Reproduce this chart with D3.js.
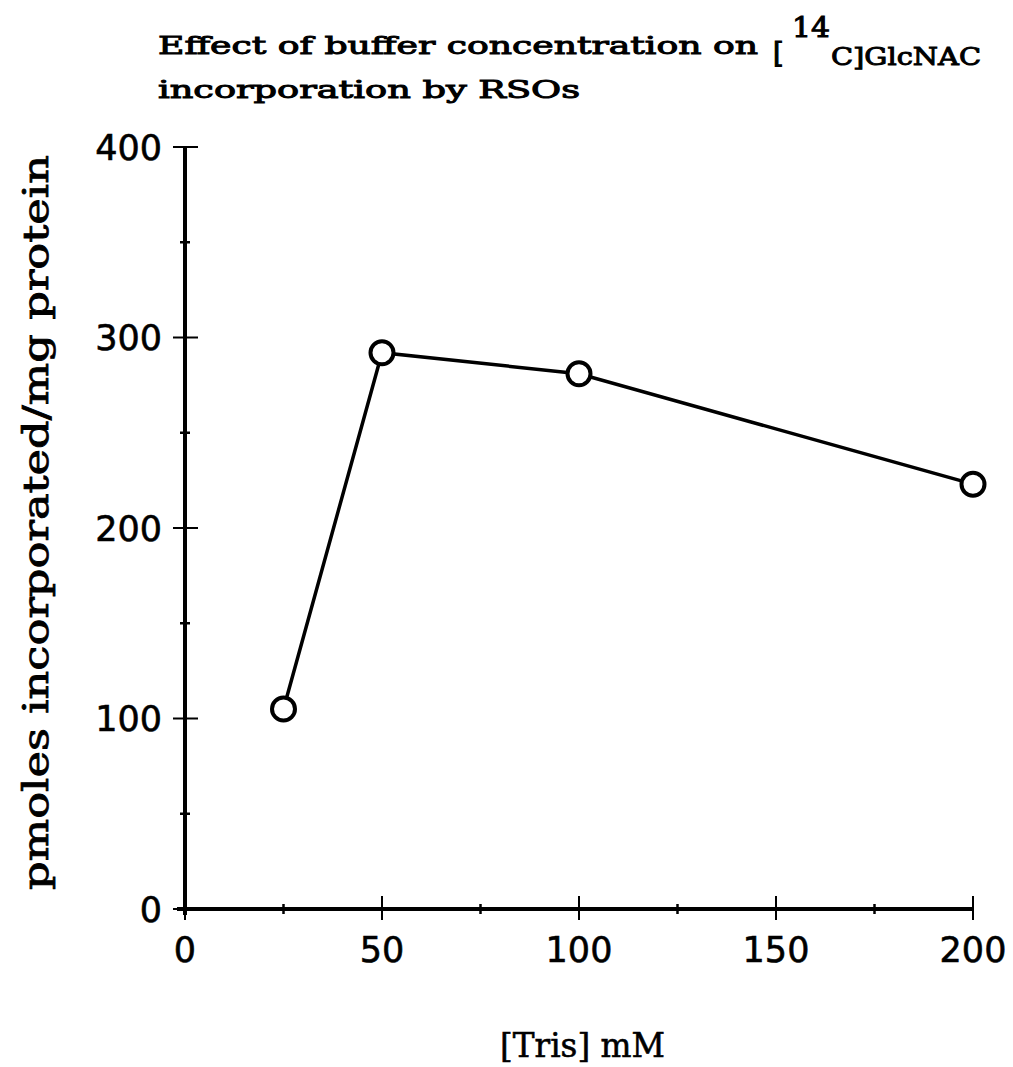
<!DOCTYPE html>
<html>
<head>
<meta charset="utf-8">
<script src="https://cdn.jsdelivr.net/npm/d3@7"></script>
<style>
  html, body { margin: 0; padding: 0; background: #fff; }
  svg { display: block; }
</style>
</head>
<body>
<svg id="chart" width="1013" height="1067"></svg>
<script>
// Tris concentration (mM) and GlcNAc incorporation (pmoles/mg protein)
const trisMM = [25, 50, 100, 200];
const incorporation = [105, 292, 281, 223];
const xTicks = [0, 50, 100, 150, 200];
const xMinorTicks = [25, 75, 125, 175];
const yTicks = [0, 100, 200, 300, 400];
const yMinorTicks = [50, 150, 250, 350];

(function draw() {
  const svg = d3.select("#chart");
  const plotLeft = 185, plotRight = 973, plotTop = 147, plotBottom = 909;

  const x = d3.scaleLinear().domain([0, 200]).range([plotLeft, plotRight]);
  const y = d3.scaleLinear().domain([0, 400]).range([plotBottom, plotTop]);

  const ink = "#000";
  const sans = "DejaVu Sans, sans-serif";
  const serif = "'DejaVu Serif', serif";

  // Axes: major ticks cross the axis line, minor ticks are short
  const gx = svg.append("g");
  gx.append("line").attr("x1", plotLeft - 8).attr("x2", plotRight)
    .attr("y1", plotBottom).attr("y2", plotBottom)
    .attr("stroke", ink).attr("stroke-width", 4);
  gx.selectAll("line.maj").data(xTicks).join("line").attr("class", "maj")
    .attr("x1", d => x(d)).attr("x2", d => x(d))
    .attr("y1", plotBottom - 13).attr("y2", plotBottom + 11)
    .attr("stroke", ink).attr("stroke-width", 2);
  gx.selectAll("line.min").data(xMinorTicks).join("line").attr("class", "min")
    .attr("x1", d => x(d)).attr("x2", d => x(d))
    .attr("y1", plotBottom - 5).attr("y2", plotBottom + 5)
    .attr("stroke", ink).attr("stroke-width", 2.5);
  gx.selectAll("text").data(xTicks).join("text")
    .attr("x", d => x(d)).attr("y", 962)
    .attr("text-anchor", "middle")
    .attr("font-family", sans).attr("font-size", 35)
    .attr("stroke", ink).attr("stroke-width", 0.6)
    .attr("fill", ink).text(d => d);

  const gy = svg.append("g");
  gy.append("line").attr("x1", plotLeft).attr("x2", plotLeft)
    .attr("y1", plotTop).attr("y2", plotBottom + 6)
    .attr("stroke", ink).attr("stroke-width", 4);
  gy.selectAll("line.maj").data(yTicks).join("line").attr("class", "maj")
    .attr("x1", plotLeft - 12).attr("x2", plotLeft + 13)
    .attr("y1", d => y(d)).attr("y2", d => y(d))
    .attr("stroke", ink).attr("stroke-width", 2);
  gy.selectAll("line.min").data(yMinorTicks).join("line").attr("class", "min")
    .attr("x1", plotLeft - 5).attr("x2", plotLeft + 5)
    .attr("y1", d => y(d)).attr("y2", d => y(d))
    .attr("stroke", ink).attr("stroke-width", 2.5);
  gy.selectAll("text").data(yTicks).join("text")
    .attr("x", 162).attr("y", d => y(d))
    .attr("dy", "0.36em")
    .attr("text-anchor", "end")
    .attr("font-family", sans).attr("font-size", 35)
    .attr("stroke", ink).attr("stroke-width", 0.6)
    .attr("fill", ink).text(d => d);

  // Data line and open circle markers
  const pts = trisMM.map((t, i) => [t, incorporation[i]]);
  svg.append("path")
    .datum(pts)
    .attr("d", d3.line().x(d => x(d[0])).y(d => y(d[1])))
    .attr("fill", "none").attr("stroke", ink).attr("stroke-width", 3.5);
  svg.selectAll("circle").data(pts).join("circle")
    .attr("cx", d => x(d[0])).attr("cy", d => y(d[1]))
    .attr("r", 11.5)
    .attr("fill", "#fff").attr("stroke", ink).attr("stroke-width", 4);

  // Title (two lines, with isotope superscript)
  const tg = svg.append("g")
    .attr("font-family", serif).attr("fill", ink)
    .attr("stroke", ink).attr("stroke-width", 1);
  tg.append("text").attr("x", 158).attr("y", 54).attr("font-size", 25)
    .attr("textLength", 600).attr("lengthAdjust", "spacingAndGlyphs")
    .text("Effect of buffer concentration on");
  tg.append("text").attr("x", 773).attr("y", 62).attr("font-size", 27)
    .attr("stroke-width", 1.2).text("[");
  tg.append("text").attr("x", 792).attr("y", 37).attr("font-size", 27)
    .attr("textLength", 38).attr("lengthAdjust", "spacingAndGlyphs")
    .text("14");
  tg.append("text").attr("x", 831).attr("y", 65).attr("font-size", 25)
    .attr("textLength", 150).attr("lengthAdjust", "spacingAndGlyphs")
    .text("C]GlcNAC");
  tg.append("text").attr("x", 158).attr("y", 98).attr("font-size", 25)
    .attr("textLength", 422).attr("lengthAdjust", "spacingAndGlyphs")
    .text("incorporation by RSOs");

  // Axis titles
  svg.append("text")
    .attr("transform", "translate(48,890) rotate(-90)")
    .attr("font-family", serif).attr("font-size", 36)
    .attr("textLength", 735).attr("lengthAdjust", "spacingAndGlyphs")
    .attr("stroke", ink).attr("stroke-width", 0.8)
    .attr("fill", ink).text("pmoles incorporated/mg protein");

  svg.append("text")
    .attr("x", 500).attr("y", 1057)
    .attr("font-family", serif).attr("font-size", 34)
    .attr("textLength", 165).attr("lengthAdjust", "spacingAndGlyphs")
    .attr("stroke", ink).attr("stroke-width", 0.6)
    .attr("fill", ink).text("[Tris] mM");
})();
</script>
</body>
</html>
